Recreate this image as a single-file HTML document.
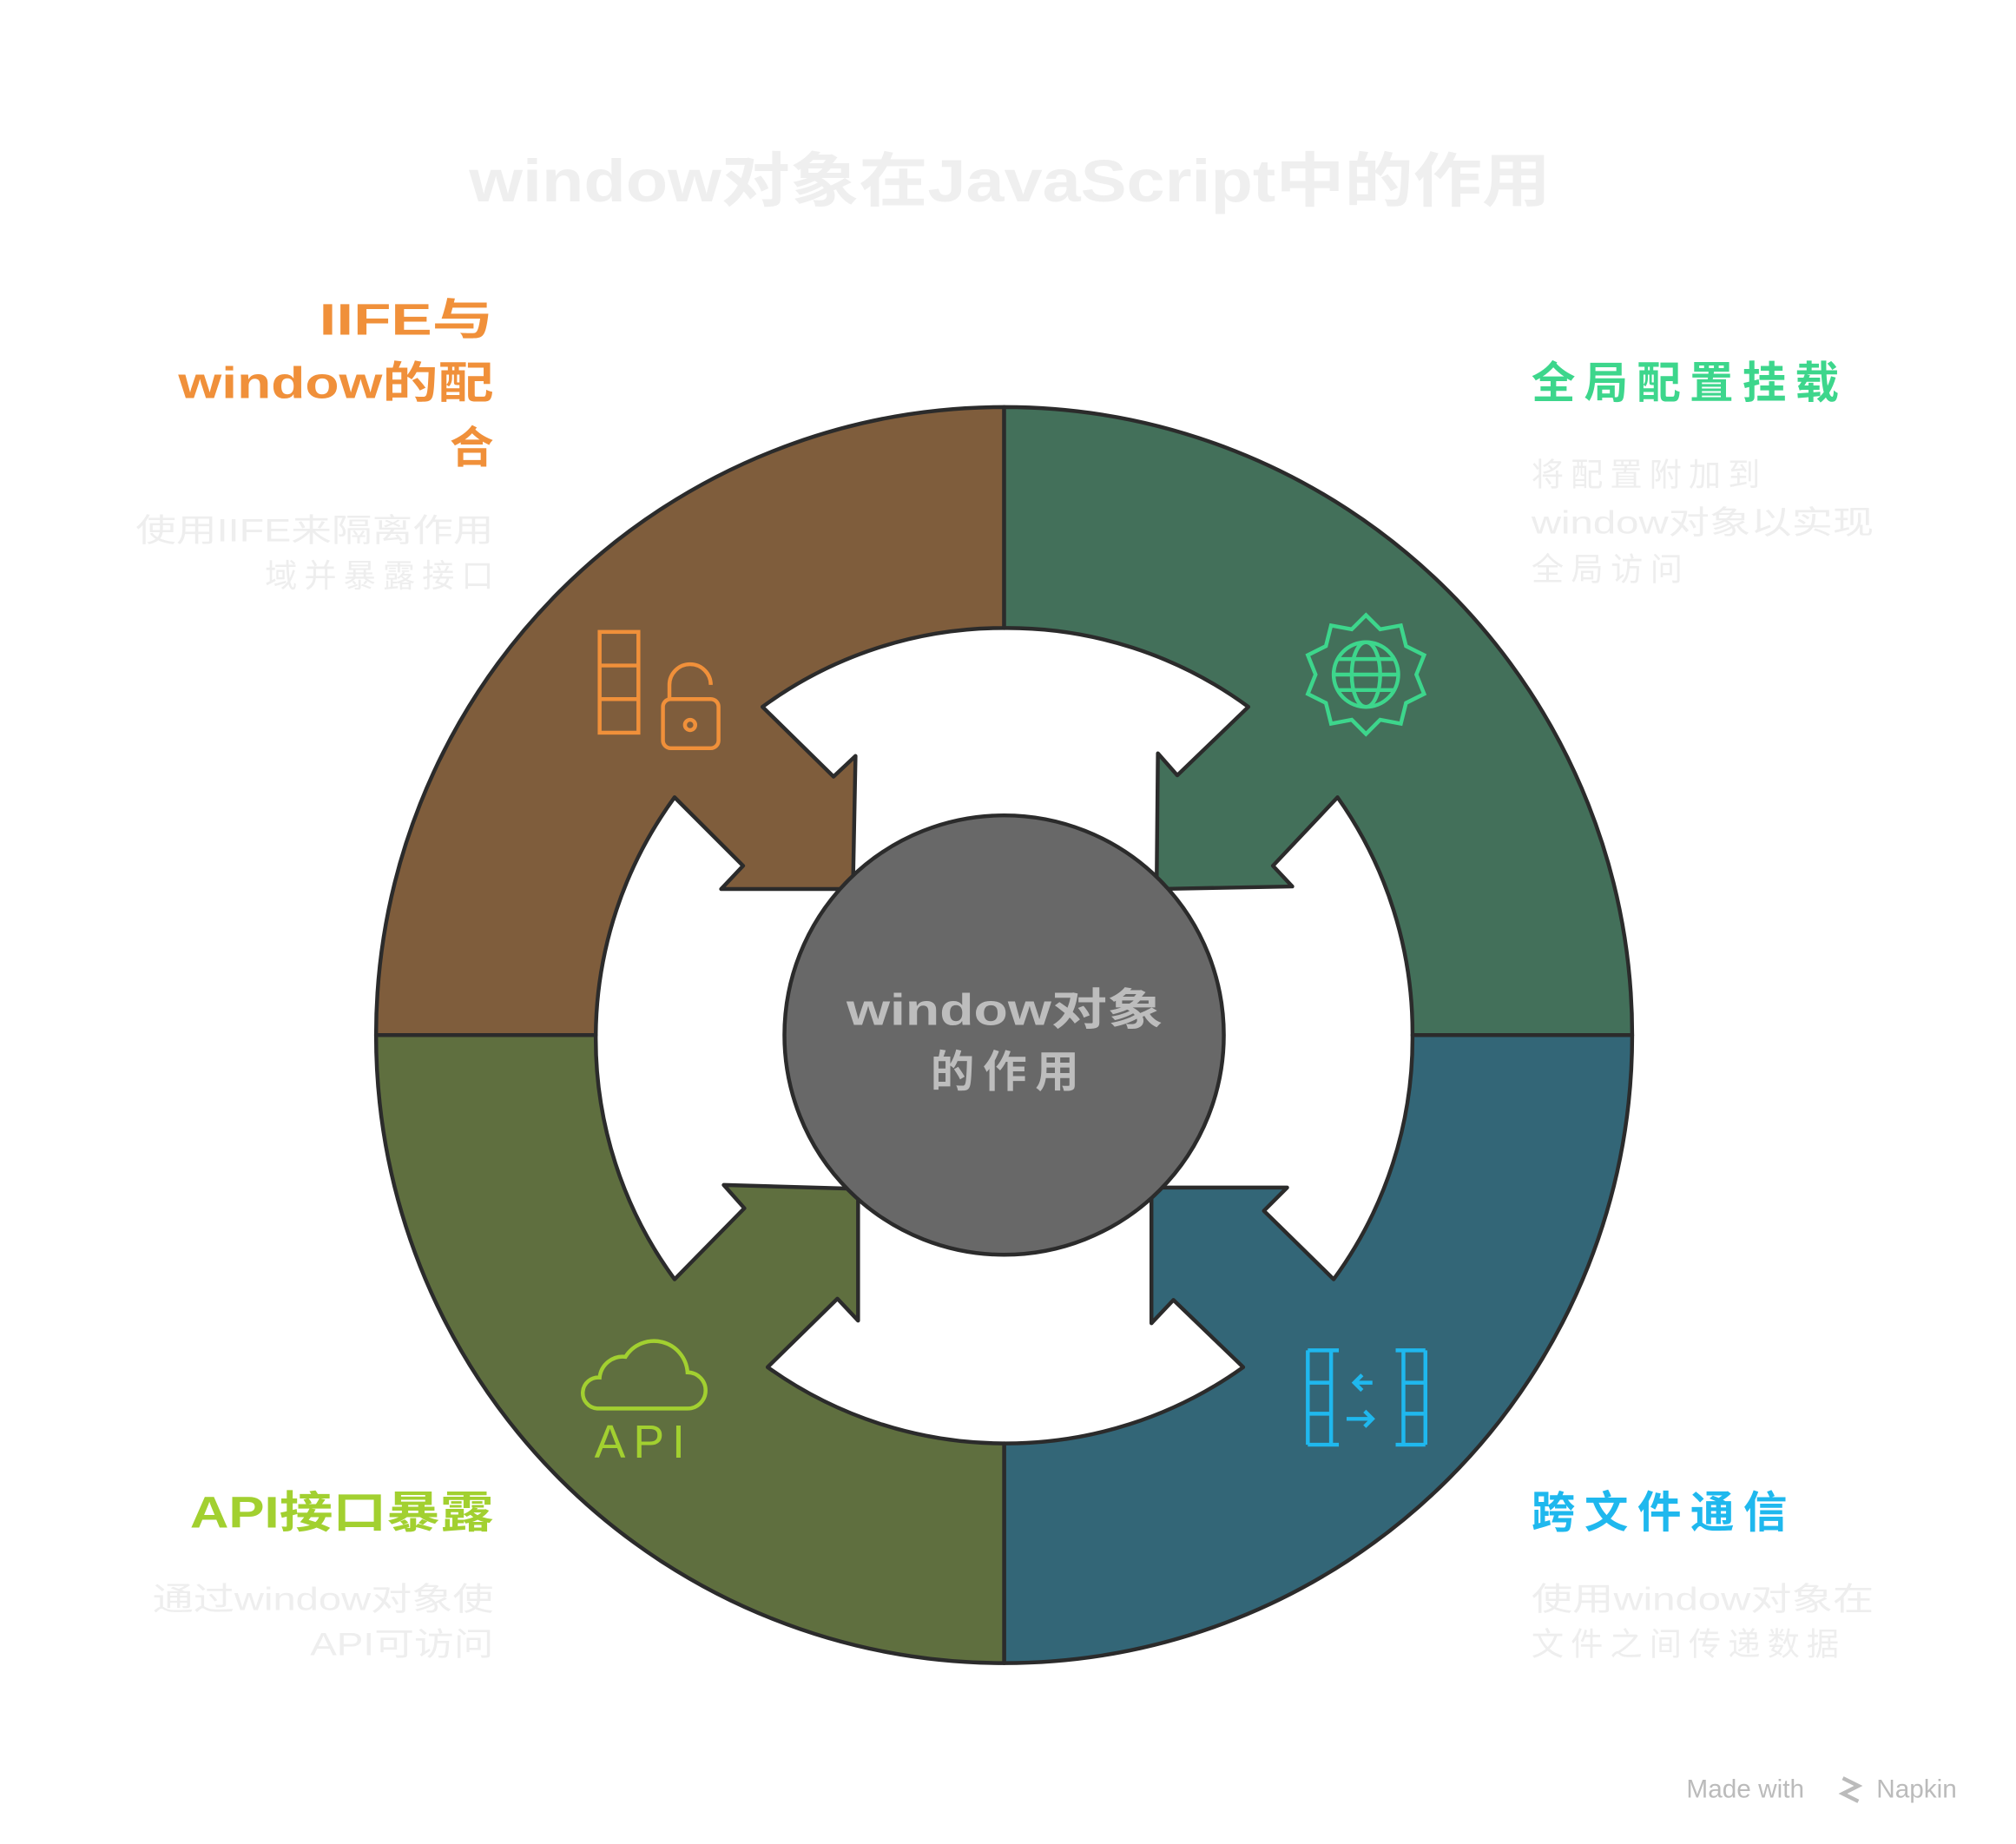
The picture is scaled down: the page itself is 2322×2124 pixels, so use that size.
<!DOCTYPE html>
<html><head><meta charset="utf-8"><style>
html,body{margin:0;padding:0;background:#fff;}
svg{display:block;}
text{font-family:"Liberation Sans","Noto Sans CJK SC",sans-serif;}
</style></head><body>
<svg width="2322" height="2124" viewBox="0 0 1560 1427" xmlns="http://www.w3.org/2000/svg">
<rect width="1560" height="1427" fill="#fff"/>
<text x="363" y="156" font-size="46" font-weight="bold" fill="#efefef" textLength="837" lengthAdjust="spacingAndGlyphs">window对象在JavaScript中的作用</text>

<g stroke="#2b2b2b" stroke-width="3" stroke-linejoin="round">
<path fill="#7f5d3c" d="M291,801 A486,486 0 0 1 777,315 L777,486 A315,315 0 0 0 590,547 L645,601 L662,585 L660,688 L558,688 L575,670 L522,617 A315,315 0 0 0 461,801 Z"/>
<path fill="#43705a" d="M777,315 A486,486 0 0 1 1263,801 L1093,801 A315,315 0 0 0 1035,617 L985,670 L1000,686 L895,688 L896,583 L911,600 L966,547 A315,315 0 0 0 777,486 Z"/>
<path fill="#336677" d="M1263,801 A486,486 0 0 1 777,1287 L777,1117 A315,315 0 0 0 962,1058 L908,1006 L891,1024 L891,919 L996,919 L978,937 L1032,990 A315,315 0 0 0 1093,801 Z"/>
<path fill="#5f6f3f" d="M777,1287 A486,486 0 0 1 291,801 L461,801 A315,315 0 0 0 522,990 L576,935 L560,917 L664,920 L664,1022 L648,1005 L594,1058 A315,315 0 0 0 777,1117 Z"/>
<circle cx="777" cy="801" r="170" fill="#686868"/>
</g>
<text x="655" y="793" font-size="34" font-weight="bold" fill="#bdbdbd" textLength="245" lengthAdjust="spacingAndGlyphs">window对象</text>
<text x="720" y="841" font-size="34" font-weight="bold" fill="#bdbdbd" textLength="115" lengthAdjust="spacing">的作用</text>

<g fill="none" stroke="#f0903a" stroke-width="3">
<rect x="464" y="489" width="30" height="78"/><line x1="464" y1="515" x2="494" y2="515"/><line x1="464" y1="541" x2="494" y2="541"/>
<rect x="513" y="541" width="43" height="38" rx="6"/><path d="M518,541 V530 A16,16 0 0 1 550,530"/><circle cx="534" cy="561" r="4"/>
</g>
<g fill="none" stroke="#3dd68c" stroke-width="3">
<path d="M1057,476 L1068,487 L1084,484 L1088,500 L1102,507 L1096,522 L1102,537 L1088,544 L1084,560 L1068,557 L1057,568 L1046,557 L1030,560 L1026,544 L1012,537 L1018,522 L1012,507 L1026,500 L1030,484 L1046,487 Z"/>
<circle cx="1057" cy="522" r="25"/><ellipse cx="1057" cy="522" rx="11" ry="25"/><line x1="1032" y1="522" x2="1082" y2="522"/><line x1="1036" y1="510" x2="1078" y2="510"/><line x1="1036" y1="534" x2="1078" y2="534"/>
</g>
<g fill="none" stroke="#a2d030" stroke-width="3">
<path d="M462,1090 H532 A14,14 0 0 0 532,1062 A26,26 0 0 0 484,1050 A18,18 0 0 0 464,1066 A12,12 0 0 0 462,1090 Z"/>
</g>
<text x="498" y="1128" text-anchor="middle" font-size="36" fill="#a2d030" font-family="Liberation Mono" letter-spacing="6">API</text>
<g fill="none" stroke="#1fb8ee" stroke-width="3">
<path d="M1012,1045 H1036 M1012,1045 V1118 M1012,1118 H1036 M1012,1070 H1030 M1012,1094 H1030 M1030,1045 V1118"/>
<path d="M1103,1045 H1080 M1103,1045 V1118 M1103,1118 H1080 M1086,1070 H1103 M1086,1094 H1103 M1086,1045 V1118"/>
<path d="M1062,1070 H1048 M1054,1064 L1048,1070 L1054,1076 M1042,1098 H1062 M1056,1092 L1062,1098 L1056,1104"/>
</g>

<g font-weight="bold" font-size="34" fill="#f0903a">
<text x="247" y="259" textLength="135" lengthAdjust="spacingAndGlyphs">IIFE与</text>
<text x="138" y="308" textLength="244" lengthAdjust="spacingAndGlyphs">window的配</text>
<text x="382" y="358" text-anchor="end">合</text>
</g>
<g font-size="25" fill="#eeeeee">
<text x="105" y="419" textLength="277" lengthAdjust="spacingAndGlyphs">使用IIFE来隔离作用</text>
<text x="205" y="454" textLength="177" lengthAdjust="spacing">域并暴露接口</text>
</g>
<text x="1185" y="308" font-weight="bold" font-size="34" fill="#3dd68c" textLength="238" lengthAdjust="spacing">全局配置挂载</text>
<g font-size="25" fill="#eeeeee">
<text x="1185" y="376" textLength="177" lengthAdjust="spacing">将配置附加到</text>
<text x="1185" y="413" textLength="265" lengthAdjust="spacingAndGlyphs">window对象以实现</text>
<text x="1185" y="449" textLength="117" lengthAdjust="spacing">全局访问</text>
</g>
<text x="147" y="1182" font-weight="bold" font-size="34" fill="#a2d030" textLength="235" lengthAdjust="spacingAndGlyphs">API接口暴露</text>
<g font-size="25" fill="#eeeeee">
<text x="118" y="1246" textLength="264" lengthAdjust="spacingAndGlyphs">通过window对象使</text>
<text x="240" y="1281" textLength="142" lengthAdjust="spacingAndGlyphs">API可访问</text>
</g>
<text x="1185" y="1182" font-weight="bold" font-size="34" fill="#1fb8ee" textLength="198" lengthAdjust="spacing">跨文件通信</text>
<g font-size="25" fill="#eeeeee">
<text x="1185" y="1246" textLength="265" lengthAdjust="spacingAndGlyphs">使用window对象在</text>
<text x="1185" y="1281" textLength="238" lengthAdjust="spacing">文件之间传递数据</text>
</g>
<text x="1305" y="1391" font-size="20" fill="#bbbbbb">Made with</text>
<path d="M1426,1376 l12,6 l-12,6 l12,6" fill="none" stroke="#bbbbbb" stroke-width="3"/>
<text x="1452" y="1391" font-size="20" fill="#bbbbbb">Napkin</text>
</svg>
</body></html>
